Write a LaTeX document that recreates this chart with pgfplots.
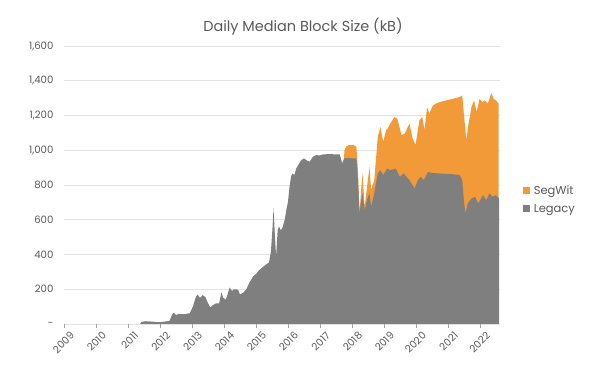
\documentclass[border=0pt]{standalone}
\usepackage{fontspec}
\setmainfont{Poppins}
\usepackage{pgfplots}
\pgfplotsset{compat=1.18}
\usepackage{pgfplotstable}
\definecolor{lgray}{HTML}{7F7F7F}
\definecolor{sorange}{HTML}{F29A38}
\definecolor{txt}{HTML}{595959}
\definecolor{gridc}{HTML}{E3E3E3}
\pgfplotstableread{
x y
2009.00 0
2011.38 0
2011.42 12
2011.55 16
2011.75 14
2011.95 10
2012.15 14
2012.30 18
2012.38 55
2012.43 65
2012.50 52
2012.60 58
2012.75 56
2012.93 62
2013.03 100
2013.12 155
2013.18 170
2013.25 150
2013.33 166
2013.42 155
2013.50 120
2013.57 95
2013.65 108
2013.75 118
2013.85 118
2013.92 182
2013.98 150
2014.06 140
2014.18 210
2014.25 190
2014.32 200
2014.44 198
2014.50 170
2014.60 180
2014.70 200
2014.80 240
2014.92 275
2015.01 290
2015.10 310
2015.20 325
2015.30 340
2015.41 355
2015.47 420
2015.52 560
2015.55 668
2015.59 520
2015.63 390
2015.68 540
2015.72 560
2015.78 540
2015.83 555
2015.90 600
2015.95 656
2016.00 700
2016.05 790
2016.10 850
2016.14 866
2016.20 857
2016.26 895
2016.34 920
2016.42 943
2016.50 953
2016.60 940
2016.68 934
2016.78 962
2016.88 972
2017.00 970
2017.09 976
2017.30 978
2017.50 976
2017.62 976
2017.70 924
2017.75 950
2017.80 955
2018.14 953
2018.19 828
2018.24 637
2018.28 700
2018.33 752
2018.40 656
2018.48 720
2018.55 752
2018.60 675
2018.70 752
2018.81 866
2018.89 885
2018.98 857
2019.10 894
2019.20 885
2019.37 894
2019.50 847
2019.62 866
2019.80 828
2019.96 780
2020.06 828
2020.15 847
2020.25 828
2020.38 876
2020.48 870
2020.74 866
2021.16 862
2021.37 857
2021.45 828
2021.50 713
2021.55 636
2021.62 694
2021.74 723
2021.85 732
2021.95 694
2022.10 742
2022.20 713
2022.30 751
2022.40 732
2022.50 742
2022.60 723
}\legacy
\pgfplotstableread{
x y
2017.75 950
2017.77 1000
2017.82 1020
2017.90 1030
2018.05 1030
2018.14 1020
2018.19 880
2018.24 637
2018.28 750
2018.33 866
2018.40 675
2018.48 800
2018.55 905
2018.60 770
2018.70 828
2018.81 1077
2018.89 1134
2018.98 1048
2019.07 1115
2019.12 1124
2019.20 1153
2019.33 1191
2019.42 1182
2019.55 1087
2019.65 1096
2019.80 1153
2019.90 1067
2019.99 1030
2020.11 1172
2020.20 1191
2020.27 1115
2020.35 1249
2020.42 1210
2020.53 1258
2020.63 1268
2020.74 1277
2020.95 1287
2021.16 1296
2021.37 1306
2021.45 1315
2021.50 1210
2021.58 1057
2021.63 1134
2021.74 1249
2021.82 1287
2021.90 1220
2021.99 1296
2022.08 1277
2022.15 1287
2022.25 1268
2022.36 1329
2022.43 1296
2022.50 1287
2022.59 1268
}\total
\begin{document}
\begin{tikzpicture}
\path[use as bounding box] (0,0) rectangle (600bp,372bp);
\begin{axis}[
  at={(64bp,48bp)}, anchor=south west,
  scale only axis, width=436bp, height=278bp,
  xmin=2009, xmax=2022.63, ymin=0, ymax=1600,
  axis line style={draw=none},
  xtick={2009,...,2022},
  xticklabels={2009,2010,2011,2012,2013,2014,2015,2016,2017,2018,2019,2020,2021,2022},
  ytick={0,200,...,1600},
  yticklabels={-,200,400,600,800,{1,000},{1,200},{1,400},{1,600}},
  ymajorgrids, grid style={gridc, line width=0.6bp},
  xtick align=outside, xtick pos=bottom, ytick style={draw=none},
  xtick style={draw=gridc!70!black, line width=0.6bp}, major tick length=4bp,
  tick label style={font=\fontsize{10.2}{12}\selectfont, text=txt},
  xticklabel style={rotate=45, anchor=north east, inner sep=1bp, xshift=3bp, yshift=-5bp},
  yticklabel style={xshift=-7bp},
  /pgf/number format/assume math mode=true,
  legend style={at={(1.052,0.447)}, anchor=west, draw=none, fill=none,
    font=\fontsize{11.5}{13}\selectfont, text=txt, row sep=4bp,
    inner sep=0bp, nodes={inner xsep=4bp}},
  legend cell align=left,
  legend image code/.code={\fill[#1] (0bp,-3.5bp) rectangle (7bp,3.5bp);},
]
\addplot[fill=sorange, draw=none] table {\total} \closedcycle;
\addlegendentry{SegWit}
\addplot[fill=lgray, draw=none] table {\legacy} \closedcycle;
\addlegendentry{Legacy}
\draw[gridc!70!black, line width=0.6bp] (rel axis cs:0,0) -- (rel axis cs:1,0);
\end{axis}
\node[text=txt, font=\fontsize{14.5}{16}\selectfont] at (303bp,345bp) {Daily Median Block Size (kB)};
\end{tikzpicture}
\end{document}
